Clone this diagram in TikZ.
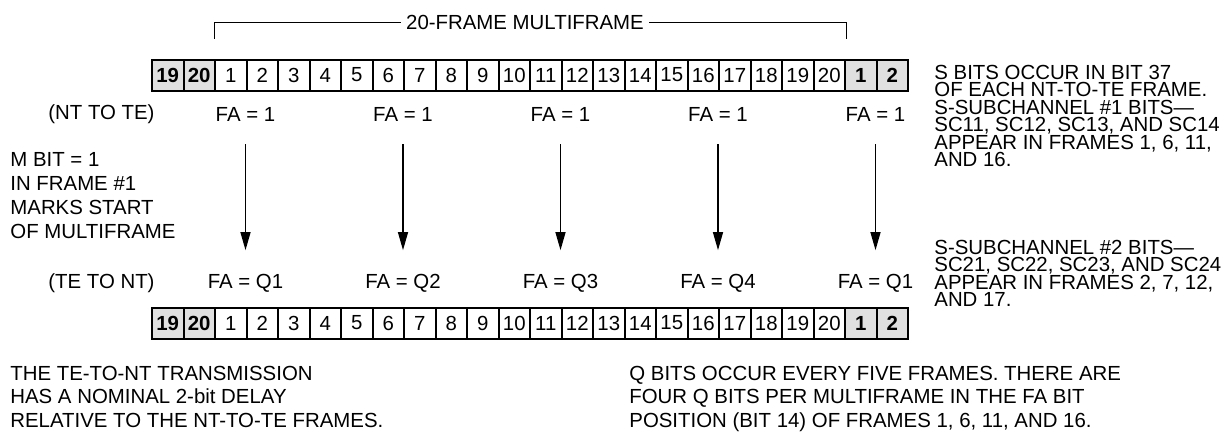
\documentclass[tikz,border=0pt]{standalone}
\usepackage{fontspec}
\setmainfont{Liberation Sans}
\usepackage{xcolor}
\usetikzlibrary{positioning,arrows.meta}
\definecolor{cellgray}{HTML}{E0E0E0}
\setlength{\lineskiplimit}{-5pt}

\begin{document}
\begin{tikzpicture}[
  x=0.5pt, y=-0.5pt,
  every node/.style={font=\fontsize{10.2}{12}\selectfont},
  cell/.style={draw, line width=1pt, minimum width=15.75pt, minimum height=15.5pt, inner sep=0pt, anchor=west},
  oldcell/.style={cell, fill=cellgray, font=\fontsize{10.2}{12}\selectfont\bfseries},
  falabel/.style={inner sep=0pt},
  note/.style={align=left, anchor=north west, inner sep=0pt},
  tightnote/.style={note, font=\fontsize{10.2}{8.75}\selectfont},
  widenote/.style={note, font=\fontsize{10.2}{11.75}\selectfont},
  flow/.style={line width=0.65pt, -{Triangle[length=9pt, width=5pt]}, shorten <=11.3pt, shorten >=11.7pt}
]
\useasboundingbox (0,0) rectangle (1231,434);

% NT to TE frames
\node[oldcell] (ntold19) at (151,75) {19};
\node[oldcell] (ntold20) at (182.5,75) {20};
\foreach \k in {1,...,20}
  \node[cell] (nt\k) at ({151+(\k+1)*31.5},75) {\k};
\node[oldcell] (ntnew1) at (844,75) {1};
\node[oldcell] (ntnew2) at (875.5,75) {2};

% TE to NT frames
\node[oldcell] (teold19) at (151,323) {19};
\node[oldcell] (teold20) at (182.5,323) {20};
\foreach \k in {1,...,20}
  \node[cell] (te\k) at ({151+(\k+1)*31.5},323) {\k};
\node[oldcell] (tenew1) at (844,323) {1};
\node[oldcell] (tenew2) at (875.5,323) {2};

% multiframe bracket
\node[inner xsep=2.5pt, inner ysep=0pt] (mf) at (525,22) {20-FRAME MULTIFRAME};
\draw[line width=0.5pt] (mf.west) -| ([yshift=9.75pt]nt1.north west);
\draw[line width=0.5pt] (mf.east) -| ([yshift=9.75pt]nt20.north east);

% direction labels
\node[falabel, anchor=west] (ntte) at (48,114) {(NT TO TE)};
\node[falabel, anchor=west] (tent) at (48,283) {(TE TO NT)};

% FA bits
\foreach \j/\q in {1/Q1,2/Q2,3/Q3,4/Q4,5/Q1} {
  \node[falabel] (fa\j) at ({245.5+(\j-1)*157.5},114) {FA = 1};
  \node[falabel] (fq\j) at ({245.5+(\j-1)*157.5},283) {FA = \q};
  \draw[flow] (fa\j) -- (fq\j);
}

% notes
\node[note] (mbit) at (10,152) {M BIT = 1\\IN FRAME \#1\\MARKS START\\OF MULTIFRAME};
\node[tightnote] (sbits) at (934,64.7) {S BITS OCCUR IN BIT 37\\OF EACH NT-TO-TE FRAME.\\S-SUBCHANNEL \#1 BITS—\\SC11, SC12, SC13, AND SC14\\APPEAR IN FRAMES 1, 6, 11,\\AND 16.};
\node[tightnote] (subch) at (934,239.4) {S-SUBCHANNEL \#2 BITS—\\SC21, SC22, SC23, AND SC24\\APPEAR IN FRAMES 2, 7, 12,\\AND 17.};
\node[widenote] (delay) at (10,365.7) {THE TE-TO-NT TRANSMISSION\\HAS A NOMINAL 2-bit DELAY\\RELATIVE TO THE NT-TO-TE FRAMES.};
\node[widenote] (qbits) at (629,365.7) {Q BITS OCCUR EVERY FIVE FRAMES. THERE ARE\\FOUR Q BITS PER MULTIFRAME IN THE FA BIT\\POSITION (BIT 14) OF FRAMES 1, 6, 11, AND 16.};
\end{tikzpicture}
\end{document}
